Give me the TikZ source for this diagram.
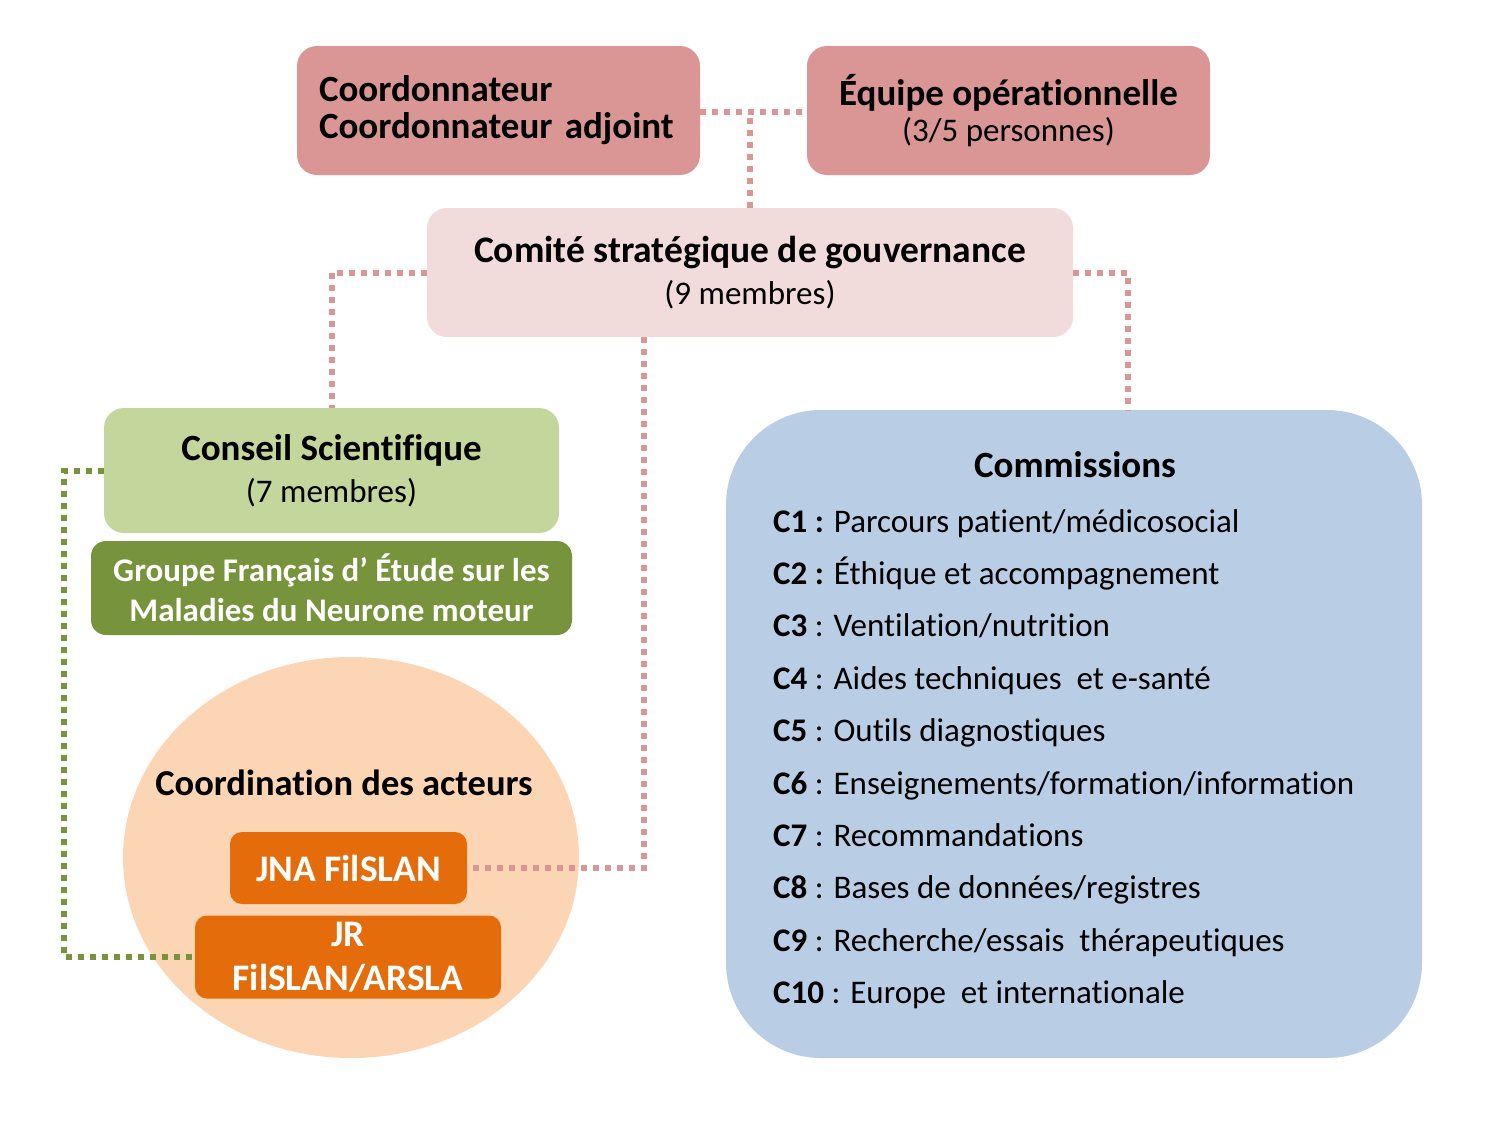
\documentclass[tikz,border=0pt]{standalone}
\usepackage{fontspec}
\setmainfont{Carlito}[Ligatures=NoCommon]
\usetikzlibrary{shapes.geometric}
\definecolor{rosefonce}{HTML}{D99694}
\definecolor{roseclair}{HTML}{F2DCDB}
\definecolor{vertclair}{HTML}{C3D69B}
\definecolor{vertfonce}{HTML}{77933C}
\definecolor{peche}{HTML}{FCD5B5}
\definecolor{orange}{HTML}{E46C0A}
\definecolor{bleu}{HTML}{B9CDE5}
\newcommand{\regtext}{\normalfont\fontsize{33}{36}\selectfont}
\tikzset{
  boxbase/.style={rounded corners=20pt, inner sep=0pt, align=center, text=black},
  topbox/.style={boxbase, fill=rosefonce, minimum width=403pt, minimum height=129pt},
  orangebox/.style={boxbase, fill=orange, rounded corners=12pt, text=white, font=\bfseries\fontsize{37.5}{44}\selectfont},
  pinkdot/.style={draw=rosefonce, line width=6pt, dash pattern=on 6pt off 6pt},
  greendot/.style={draw=vertfonce, line width=6pt, dash pattern=on 6pt off 6pt},
  item/.style={anchor=base west, inner sep=0pt, font=\fontsize{33}{36}\selectfont},
}
\begin{document}
\begin{tikzpicture}[x=1pt,y=-1pt]
\useasboundingbox (0,0) rectangle (1500,1125);
\fill[white] (0,0) rectangle (1500,1125);

\node[topbox, text width=359pt, align=left, font=\bfseries\fontsize{37}{37}\selectfont] (coord) at (498.5,110.5) {Coordonnateur\\Coordonnateur adjoint};
\node[topbox, font=\bfseries\fontsize{37}{36}\selectfont] (equipe) at (1008.5,110.5) {Équipe opérationnelle\\{\regtext(3/5 personnes)}};
\node[boxbase, fill=roseclair, minimum width=646pt, minimum height=129pt, font=\bfseries\fontsize{37.5}{42}\selectfont] (comite) at (750,272.5) {Comité stratégique de gouvernance\\{\regtext(9 membres)}};
\node[boxbase, fill=vertclair, minimum width=455pt, minimum height=125pt, font=\bfseries\fontsize{37}{42}\selectfont] (conseil) at (331.5,470.5) {Conseil Scientifique\\{\regtext(7 membres)}};
\node[boxbase, fill=vertfonce, rounded corners=15pt, minimum width=481pt, minimum height=94pt, text=white, font=\bfseries\fontsize{33}{40}\selectfont] (gfem) at (331.5,588) {Groupe Français d’ Étude sur les\\Maladies du Neurone moteur};

\node[ellipse, fill=peche, minimum width=456pt, minimum height=401pt, inner sep=0pt] (acteurs) at (351,857.5) {};
\node[inner sep=0pt, font=\bfseries\fontsize{36.5}{40}\selectfont] (acteurstitre) at (344,783) {Coordination des acteurs};
\node[orangebox, minimum width=237pt, minimum height=72pt] (jna) at (348.5,868) {JNA FilSLAN};
\node[orangebox, minimum width=306pt, minimum height=83pt] (jr) at (348,957) {JR\\FilSLAN/ARSLA};

\node[boxbase, fill=bleu, rounded corners=95pt, minimum width=696pt, minimum height=648pt] (comm) at (1074,734) {};
\node[anchor=base, inner sep=0pt, font=\bfseries\fontsize{37}{40}\selectfont] (commtitre) at (1075,477) {Commissions};
\node[item] (c1) at (773,532) {\textbf{C1 :} Parcours patient/médicosocial};
\node[item] (c2) at (773,584.4) {\textbf{C2 :} Éthique et accompagnement};
\node[item] (c3) at (773,636.8) {\textbf{C3} : Ventilation/nutrition};
\node[item] (c4) at (773,689.2) {\textbf{C4} : Aides techniques\ \ et e-santé};
\node[item] (c5) at (773,741.6) {\textbf{C5} : Outils diagnostiques};
\node[item] (c6) at (773,794) {\textbf{C6} : Enseignements/formation/information};
\node[item] (c7) at (773,846.4) {\textbf{C7} : Recommandations};
\node[item] (c8) at (773,898.8) {\textbf{C8} : Bases de données/registres};
\node[item] (c9) at (773,951.2) {\textbf{C9} : Recherche/essais\ \ thérapeutiques};
\node[item] (c10) at (773,1003.6) {\textbf{C10} : Europe\ \ et internationale};

\coordinate (g) at (64,0);
\draw[pinkdot] (coord.east |- 0,112) -- (equipe.west |- 0,112);
\draw[pinkdot] (comite.north) -- (comite.north |- 0,112);
\draw[pinkdot] (comite.west) -| (conseil.north);
\draw[pinkdot] (comite.east) -| ([xshift=54pt]comm.north);
\draw[pinkdot] ([xshift=-106pt]comite.south) |- (jna.east);
\draw[greendot] (conseil.west) -- (conseil.west -| g) -- (jr.west -| g) -- (jr.west);
\end{tikzpicture}
\end{document}
